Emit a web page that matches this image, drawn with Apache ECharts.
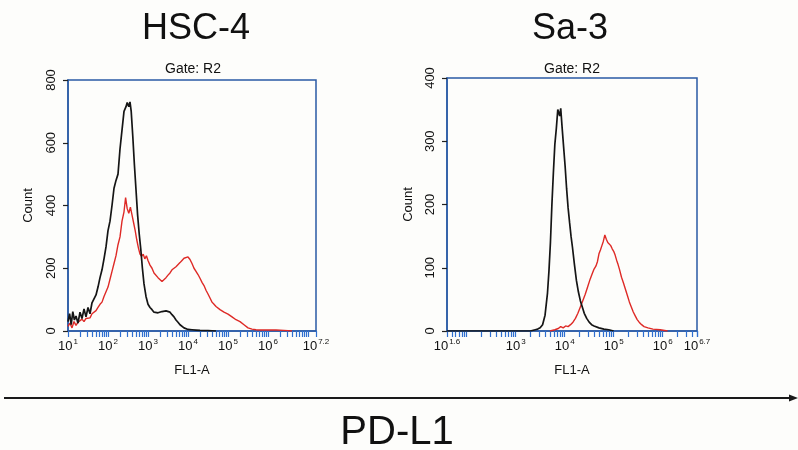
<!DOCTYPE html>
<html>
<head>
<meta charset="utf-8">
<script src="https://cdn.jsdelivr.net/npm/echarts@6/dist/echarts.min.js"></script>
<style>
html,body{margin:0;padding:0;background:#fdfdfb;}
#chart{width:798px;height:450px;}
</style>
</head>
<body>
<div id="chart"></div>
<script>
// ---------- data (x = log10 of FL1-A intensity, y = count) ----------
const panelTitles = ['HSC-4', 'Sa-3'];
const gateLabel = 'Gate: R2';
const xAxisName = 'FL1-A';
const yAxisName = 'Count';
const bottomLabel = 'PD-L1';

const hsc4XLabels = [1, 2, 3, 4, 5, 6, 7.2];
const sa3XLabels = [1.6, 3, 4, 5, 6, 6.7];
const hsc4YTicks = [0, 200, 400, 600, 800];
const sa3YTicks = [0, 100, 200, 300, 400];

const hsc4Control = [
  [1.0,30],[1.04,55],[1.08,20],[1.12,62],[1.16,35],[1.2,48],[1.25,25],[1.3,60],[1.35,40],[1.4,70],
  [1.45,45],[1.5,75],[1.55,55],[1.6,90],[1.65,95],[1.7,115],[1.75,140],[1.8,170],[1.85,195],[1.9,230],
  [1.95,268],[2.0,320],[2.05,350],[2.1,400],[2.15,455],[2.2,480],[2.25,500],[2.3,580],[2.35,640],[2.4,700],
  [2.45,715],[2.48,728],[2.52,715],[2.55,730],[2.58,700],[2.62,620],[2.66,530],[2.7,450],[2.74,370],[2.78,310],
  [2.82,260],[2.86,200],[2.9,150],[2.95,110],[3.0,85],[3.05,75],[3.1,68],[3.15,60],[3.2,66],[3.25,58],
  [3.3,55],[3.35,62],[3.4,58],[3.45,64],[3.5,62],[3.55,60],[3.6,52],[3.65,45],[3.7,35],[3.75,28],
  [3.8,20],[3.85,15],[3.9,10],[3.95,8],[4.0,5],[4.1,4],[4.2,3],[4.3,2],[4.5,1],[4.7,0]
];
const hsc4PDL1 = [
  [1.0,15],[1.05,25],[1.1,10],[1.15,30],[1.2,18],[1.25,28],[1.3,22],[1.35,38],[1.4,30],[1.45,40],
  [1.5,45],[1.55,42],[1.6,55],[1.65,58],[1.7,65],[1.75,75],[1.8,85],[1.85,92],[1.9,110],[1.95,125],
  [2.0,140],[2.05,165],[2.1,190],[2.15,215],[2.2,240],[2.25,275],[2.3,300],[2.35,350],[2.4,380],[2.44,425],
  [2.48,390],[2.52,375],[2.56,395],[2.6,370],[2.64,345],[2.68,320],[2.72,290],[2.76,265],[2.8,245],[2.84,238],
  [2.88,245],[2.92,230],[2.96,240],[3.0,225],[3.05,210],[3.1,200],[3.15,185],[3.2,180],[3.25,170],[3.3,175],
  [3.35,158],[3.4,155],[3.45,170],[3.5,178],[3.55,185],[3.6,195],[3.65,190],[3.7,205],[3.75,210],[3.8,218],
  [3.85,225],[3.9,232],[3.95,228],[4.0,236],[4.05,228],[4.1,215],[4.15,200],[4.2,190],[4.25,180],[4.3,168],
  [4.35,155],[4.4,145],[4.45,130],[4.5,118],[4.55,105],[4.6,92],[4.65,85],[4.7,78],[4.75,72],[4.8,68],
  [4.85,62],[4.9,60],[4.95,58],[5.0,54],[5.05,48],[5.1,45],[5.15,40],[5.2,36],[5.25,32],[5.3,30],
  [5.35,25],[5.4,20],[5.45,15],[5.5,10],[5.6,6],[5.7,4],[5.8,3],[6.0,3],[6.2,3],[6.4,2],[6.6,0]
];
const sa3Control = [
  [1.6,0],[3.3,0],[3.4,2],[3.45,3],[3.5,5],[3.55,10],[3.6,25],[3.65,60],[3.68,95],[3.71,140],
  [3.74,200],[3.77,250],[3.8,295],[3.83,320],[3.86,350],[3.88,352],[3.9,340],[3.92,352],[3.95,320],[3.98,290],
  [4.01,260],[4.04,225],[4.07,195],[4.1,172],[4.13,150],[4.16,132],[4.2,105],[4.24,80],[4.28,62],[4.32,48],
  [4.36,38],[4.4,28],[4.45,20],[4.5,14],[4.55,10],[4.6,8],[4.7,5],[4.8,3],[4.9,2],[5.0,0]
];
const sa3PDL1 = [
  [3.7,0],[3.8,2],[3.87,4],[3.92,7],[3.97,5],[4.02,8],[4.07,7],[4.12,10],[4.17,14],[4.22,20],
  [4.27,28],[4.32,38],[4.37,48],[4.42,58],[4.47,70],[4.52,82],[4.56,90],[4.6,98],[4.64,103],[4.67,110],
  [4.7,122],[4.73,128],[4.76,135],[4.79,142],[4.82,152],[4.85,145],[4.88,140],[4.91,143],[4.94,135],[4.97,130],
  [5.0,126],[5.03,120],[5.06,112],[5.09,105],[5.12,97],[5.16,85],[5.2,76],[5.24,66],[5.28,56],[5.32,46],
  [5.36,38],[5.4,30],[5.44,24],[5.48,18],[5.52,14],[5.57,10],[5.62,7],[5.7,5],[5.8,3],[5.95,2],[6.1,0]
];

// ---------- helpers ----------
const FONT = "'Liberation Sans', Arial, Helvetica, sans-serif";
const FRAME = '#2a5aa5';
const BLACK = '#151515';
const RED = '#de2a26';

function minorTicks(lo, hi) {
  const out = [];
  for (let d = Math.floor(lo); d <= Math.ceil(hi); d++) {
    for (let k = 1; k <= 9; k++) {
      const v = d + Math.log10(k);
      if (v >= lo - 1e-9 && v <= hi + 1e-9) out.push(v);
    }
  }
  out.push(hi);
  return out;
}
function expLabel(v) {
  const e = Math.round(v * 10) / 10;
  return '10{s|' + e + '}';
}
function xAxis(idx, lo, hi, labels) {
  return {
    type: 'value', gridIndex: idx, min: lo, max: hi,
    name: xAxisName, nameLocation: 'middle', nameGap: 33,
    nameTextStyle: { fontFamily: FONT, fontSize: 13, color: '#111' },
    axisLine: { show: true, lineStyle: { color: FRAME, width: 1.5 } },
    axisTick: { show: true, inside: false, length: 6, customValues: minorTicks(lo, hi),
      lineStyle: { color: '#2f6fd0', width: 1.2 } },
    splitLine: { show: false },
    axisLabel: {
      customValues: labels, margin: 7, color: '#111',
      formatter: expLabel,
      rich: {
        s: { fontFamily: FONT, fontSize: 8, verticalAlign: 'top', padding: [0, 0, 8, 1], color: '#111' }
      },
      fontFamily: FONT, fontSize: 13
    }
  };
}
function yAxis(idx, max, ticks, gap) {
  return {
    type: 'value', gridIndex: idx, min: 0, max: max, interval: max / 4,
    name: yAxisName, nameLocation: 'middle', nameGap: gap, nameRotate: 90,
    nameTextStyle: { fontFamily: FONT, fontSize: 13, color: '#111' },
    axisLine: { show: true, lineStyle: { color: FRAME, width: 1.5 } },
    axisTick: { show: true, length: 5, lineStyle: { color: '#222', width: 1.2 } },
    splitLine: { show: false },
    axisLabel: { rotate: 90, margin: 10, fontFamily: FONT, fontSize: 13, color: '#111',
      customValues: ticks }
  };
}
function line(xi, data, color, w) {
  return {
    type: 'line', xAxisIndex: xi, yAxisIndex: xi, data: data, symbol: 'none',
    smooth: false, animation: false,
    lineStyle: { color: color, width: w }, z: color === RED ? 3 : 4
  };
}

const chart = echarts.init(document.getElementById('chart'), null, { renderer: 'canvas' });
chart.setOption({
  backgroundColor: '#fdfdfb',
  animation: false,
  grid: [
    { left: 68, top: 80, width: 248, height: 251, show: true, borderColor: FRAME, borderWidth: 1.5, backgroundColor: 'transparent' },
    { left: 447, top: 78, width: 250, height: 253, show: true, borderColor: FRAME, borderWidth: 1.5, backgroundColor: 'transparent' }
  ],
  xAxis: [ xAxis(0, 1, 7.2, hsc4XLabels), xAxis(1, 1.6, 6.7, sa3XLabels) ],
  yAxis: [ yAxis(0, 800, hsc4YTicks, 33), yAxis(1, 400, sa3YTicks, 32) ],
  series: [
    line(0, hsc4PDL1, RED, 1.4),
    line(0, hsc4Control, BLACK, 1.7),
    line(1, sa3PDL1, RED, 1.4),
    line(1, sa3Control, BLACK, 1.7)
  ],
  graphic: [
    { type: 'text', style: { x: 196, y: 29, text: panelTitles[0], font: '36px ' + FONT, fill: '#111', textAlign: 'center', textVerticalAlign: 'middle' } },
    { type: 'text', style: { x: 570, y: 29, text: panelTitles[1], font: '36px ' + FONT, fill: '#111', textAlign: 'center', textVerticalAlign: 'middle' } },
    { type: 'text', style: { x: 193, y: 69, text: gateLabel, font: '14px ' + FONT, fill: '#111', textAlign: 'center', textVerticalAlign: 'middle' } },
    { type: 'text', style: { x: 572, y: 69, text: gateLabel, font: '14px ' + FONT, fill: '#111', textAlign: 'center', textVerticalAlign: 'middle' } },
    { type: 'line', shape: { x1: 4, y1: 398, x2: 792, y2: 398 }, style: { stroke: '#1a1a1a', lineWidth: 2 } },
    { type: 'polygon', shape: { points: [[798, 398], [789, 394.5], [789, 401.5]] }, style: { fill: '#1a1a1a' } },
    { type: 'text', style: { x: 397, y: 433, text: bottomLabel, font: '40px ' + FONT, fill: '#111', textAlign: 'center', textVerticalAlign: 'middle' } }
  ]
});
</script>
</body>
</html>
